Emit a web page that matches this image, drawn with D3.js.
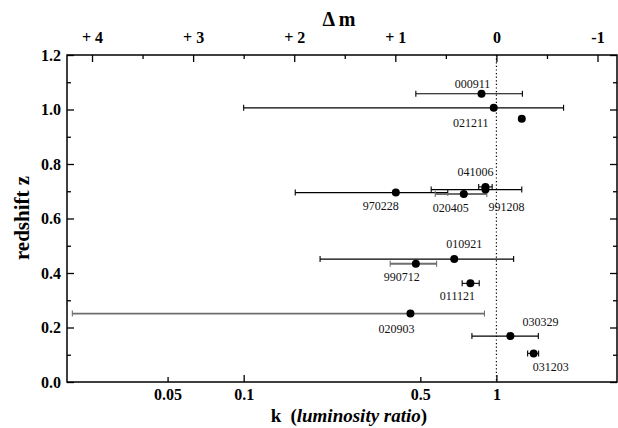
<!DOCTYPE html>
<html><head><meta charset="utf-8">
<script src="https://cdn.jsdelivr.net/npm/d3@7"></script>
<style>
html,body{margin:0;padding:0;background:#fff;}
svg{display:block;}
text{font-family:"Liberation Serif","Times New Roman",serif;}
</style></head>
<body>
<svg id="chart" width="618" height="428"></svg>
<script>
// ---- data ----
const grbNames = ["000911","021211","","041006","991208","970228","020405","010921","990712","011121","020903","030329","031203"];
const redshift = [1.058, 1.006, 0.966, 0.716, 0.706, 0.695, 0.690, 0.451, 0.434, 0.362, 0.251, 0.1685, 0.105];
const kValue   = [0.873, 0.976, 1.26, 0.905, 0.905, 0.40, 0.743, 0.681, 0.48, 0.789, 0.457, 1.136, 1.404];
const kLow     = [0.48, 0.10, null, 0.851, 0.552, 0.160, 0.573, 0.2006, 0.380, 0.732, 0.021, 0.80, 1.329];
const kHigh    = [1.267, 1.844, null, 0.962, 1.26, 0.642, 0.916, 1.17, 0.580, 0.855, 0.897, 1.465, 1.469];
const kTicks = [0.05, 0.1, 0.5, 1];
const kTickLabels = ["0.05", "0.1", "0.5", "1"];
const zTicks = [0, 0.2, 0.4, 0.6, 0.8, 1.0, 1.2];
const dmTicks = [4, 3, 2, 1, 0, -1];
const dmTickLabels = ["+ 4", "+ 3", "+ 2", "+ 1", "0", "-1"];

// ---- layout / style (not data) ----
const M = {left: 67, right: 617, top: 55, bottom: 382};
const greyBars = new Set(["020903", "990712", "020405"]);
const labelOffset = {
  "000911": [-9, -6], "021211": [-23, 19], "041006": [-10, -11], "991208": [21, 21],
  "970228": [-15, 17], "020405": [-13, 18], "010921": [10, -11], "990712": [-14, 17],
  "011121": [-13, 17], "020903": [-14, 19], "030329": [30, -10], "031203": [17, 18]
};

const svg = d3.select("#chart");
const x = d3.scaleLog().domain([0.02, 3]).range([M.left, M.right]);
const y = d3.scaleLinear().domain([0, 1.2]).range([M.bottom, M.top]);
// magnitude difference scale on top: dm = -2.5 log10 k
const dmOf = k => -2.5 * Math.log10(k);
const xdm = d3.scaleLinear().domain([dmOf(0.02), dmOf(3)]).range([M.left, M.right]);

const tickFont = g => g.selectAll("text").attr("font-size", 16).attr("font-weight", "bold").attr("fill", "#000")
  .attr("font-family", '"Liberation Serif","Times New Roman",serif');

// dotted line at k = 1
svg.append("line").attr("x1", x(1)).attr("x2", x(1)).attr("y1", M.top).attr("y2", M.bottom)
  .attr("stroke", "#000").attr("stroke-width", 1.2).attr("stroke-dasharray", "1.2,2.4");

// bottom axis
const gB = svg.append("g").attr("transform", `translate(0,${M.bottom})`)
  .call(d3.axisBottom(x).tickValues(kTicks).tickFormat((d, i) => kTickLabels[i]).tickSizeInner(-7).tickSizeOuter(0).tickPadding(7));
gB.select(".domain").remove();
gB.selectAll(".tick line").attr("stroke-width", 1.3).attr("y2", d => (d === 0.1 || d === 1) ? -7 : -5);
tickFont(gB);

// top axis (Δm)
const gT = svg.append("g").attr("transform", `translate(0,${M.top})`)
  .call(d3.axisTop(xdm).tickValues(dmTicks).tickFormat((d, i) => dmTickLabels[i]).tickSizeInner(-7).tickSizeOuter(0).tickPadding(12));
gT.select(".domain").remove();
gT.selectAll(".tick line").attr("stroke-width", 1.3);
tickFont(gT);
const gTm = svg.append("g").attr("transform", `translate(0,${M.top})`)
  .call(d3.axisTop(xdm).tickValues([3.5, 2.5, 1.5, 0.5, -0.5]).tickFormat("").tickSizeInner(-4).tickSizeOuter(0));
gTm.select(".domain").remove();
gTm.selectAll(".tick line").attr("stroke-width", 1.3);

// left axis
const gL = svg.append("g").attr("transform", `translate(${M.left},0)`)
  .call(d3.axisLeft(y).tickValues(zTicks).tickFormat(d3.format(".1f")).tickSizeInner(-7).tickSizeOuter(0).tickPadding(6));
gL.select(".domain").remove();
gL.selectAll(".tick line").attr("stroke-width", 1.3);
tickFont(gL);
const zMinor = [0.1, 0.3, 0.5, 0.7, 0.9, 1.1];
const gLm = svg.append("g").attr("transform", `translate(${M.left},0)`)
  .call(d3.axisLeft(y).tickValues(zMinor).tickFormat("").tickSizeInner(-4).tickSizeOuter(0));
gLm.select(".domain").remove();
gLm.selectAll(".tick line").attr("stroke-width", 1.3);

// right axis (mirror ticks)
const gR = svg.append("g").attr("transform", `translate(${M.right},0)`)
  .call(d3.axisRight(y).tickValues(zTicks).tickFormat("").tickSizeInner(-7).tickSizeOuter(0));
gR.select(".domain").remove();
gR.selectAll(".tick line").attr("stroke-width", 1.3);
const gRm = svg.append("g").attr("transform", `translate(${M.right},0)`)
  .call(d3.axisRight(y).tickValues(zMinor).tickFormat("").tickSizeInner(-4).tickSizeOuter(0));
gRm.select(".domain").remove();
gRm.selectAll(".tick line").attr("stroke-width", 1.3);

// frame
svg.append("rect").attr("x", M.left).attr("y", M.top).attr("width", M.right - M.left).attr("height", M.bottom - M.top)
  .attr("fill", "none").attr("stroke", "#000").attr("stroke-width", 1.5);

// data
const pts = grbNames.map((n, i) => ({name: n, z: redshift[i], k: kValue[i], lo: kLow[i], hi: kHigh[i]}));
const bars = svg.append("g");
pts.filter(d => d.lo != null).forEach(d => {
  const grey = greyBars.has(d.name);
  const col = grey ? "#6e6e6e" : "#000";
  const sw = grey ? 1.8 : 1.1;
  const g = bars.append("g").attr("stroke", col).attr("stroke-width", sw);
  g.append("line").attr("x1", x(d.lo)).attr("x2", x(d.hi)).attr("y1", y(d.z)).attr("y2", y(d.z));
  [d.lo, d.hi].forEach(v => g.append("line").attr("x1", x(v)).attr("x2", x(v))
    .attr("y1", y(d.z) - 3).attr("y2", y(d.z) + 3).attr("stroke-width", 1.1));
});
svg.append("g").selectAll("circle").data(pts).join("circle")
  .attr("cx", d => x(d.k)).attr("cy", d => y(d.z)).attr("r", 4).attr("fill", "#000");
svg.append("g").selectAll("text").data(pts.filter(d => d.name)).join("text")
  .attr("x", d => x(d.k) + labelOffset[d.name][0]).attr("y", d => y(d.z) + labelOffset[d.name][1])
  .attr("text-anchor", "middle").attr("font-size", 12).attr("fill", "#111").text(d => d.name);

// axis titles
const xt = svg.append("text").attr("x", 349).attr("y", 422).attr("text-anchor", "middle")
  .attr("font-size", 19).attr("font-weight", "bold");
xt.append("tspan").text("k");
xt.append("tspan").attr("dx", 9).text("(");
xt.append("tspan").attr("font-style", "italic").text("luminosity ratio");
xt.append("tspan").text(")");
svg.append("text").attr("x", 339).attr("y", 26).attr("text-anchor", "middle")
  .attr("font-size", 20).attr("font-weight", "bold").text("Δ m");
svg.append("text").attr("transform", "translate(29,218) rotate(-90)").attr("text-anchor", "middle")
  .attr("font-size", 21).attr("font-weight", "bold").text("redshift z");
</script>
</body></html>
